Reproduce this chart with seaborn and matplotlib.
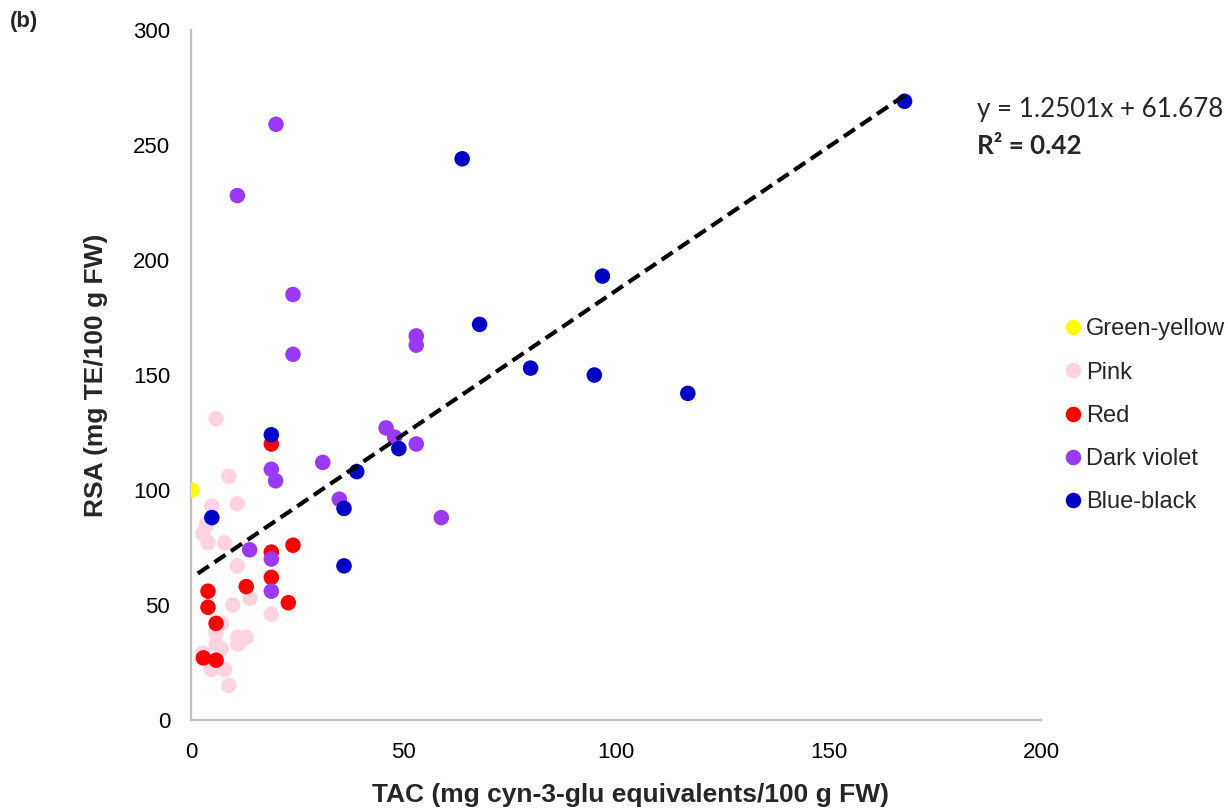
import numpy as np
import pandas as pd
import matplotlib
matplotlib.use("Agg")
import matplotlib.pyplot as plt
import seaborn as sns

# TAC (x) and RSA (y) per flesh colour group
tac_green = [0.2]
rsa_green = [100]

tac_pink = [5.9, 8.9, 10.9, 4.9, 3.6, 2.8, 4.0, 7.9, 10.9, 13.9, 9.8, 18.9,
            7.2, 5.9, 11.0, 13.0, 11.0, 5.9, 7.1, 2.8, 4.8, 7.9, 8.9]
rsa_pink = [131, 106, 94, 93, 85, 81, 77, 77, 67, 53, 50, 46,
            42, 38, 36, 36, 33, 33, 31, 29, 22, 22, 15]

tac_red = [18.9, 24.0, 18.9, 18.9, 13.0, 4.0, 4.0, 22.9, 5.9, 2.9, 5.9]
rsa_red = [120, 76, 73, 62, 58, 56, 49, 51, 42, 27, 26]

tac_violet = [20.0, 10.9, 24.0, 24.0, 53.0, 53.0, 45.9, 47.9, 53.0, 31.0,
              18.9, 19.9, 34.9, 58.9, 13.8, 18.9, 18.9]
rsa_violet = [259, 228, 185, 159, 167, 163, 127, 123, 120, 112,
              109, 104, 96, 88, 74, 70, 56]

tac_blue = [167.9, 63.8, 96.8, 67.9, 79.9, 94.9, 116.9, 18.9, 48.9, 39.0,
            36.0, 4.9, 36.0]
rsa_blue = [269, 244, 193, 172, 153, 150, 142, 124, 118, 108,
            92, 88, 67]

groups = ["Green-yellow", "Pink", "Red", "Dark violet", "Blue-black"]
colors = ["#FFFF00", "#FFD3E0", "#FF0000", "#9A3AF7", "#0000C4"]

slope, intercept = 1.2501, 61.678
r2 = 0.42

df = pd.concat([
    pd.DataFrame({"TAC": tac_green, "RSA": rsa_green, "group": groups[0]}),
    pd.DataFrame({"TAC": tac_pink, "RSA": rsa_pink, "group": groups[1]}),
    pd.DataFrame({"TAC": tac_red, "RSA": rsa_red, "group": groups[2]}),
    pd.DataFrame({"TAC": tac_violet, "RSA": rsa_violet, "group": groups[3]}),
    pd.DataFrame({"TAC": tac_blue, "RSA": rsa_blue, "group": groups[4]}),
], ignore_index=True)

sns.set_style("white")
plt.rcParams["font.family"] = ["Liberation Sans", "DejaVu Sans"]

fig = plt.figure(figsize=(12.28, 8.11), dpi=100)
ax = fig.add_axes([191 / 1228, 1 - 720 / 811, 850 / 1228, 690 / 811])

sns.scatterplot(data=df, x="TAC", y="RSA", hue="group", hue_order=groups,
                palette=colors, s=125, edgecolor="none", ax=ax, zorder=3)

# linear trendline from the equation shown
fit_x = np.array([df["TAC"].min() + 1.4, df["TAC"].max()])
fit = pd.DataFrame({"TAC": fit_x, "RSA": slope * fit_x + intercept})
sns.lineplot(data=fit, x="TAC", y="RSA", color="black", lw=3,
             linestyle=(0, (3.2, 1.6)), ax=ax, zorder=4)

ax.set_xlim(0, 200)
ax.set_ylim(0, 300)
ax.set_xticks([0, 50, 100, 150, 200])
ax.set_yticks([0, 50, 100, 150, 200, 250, 300])
ax.tick_params(length=0, labelsize=16, colors="black")
ax.tick_params(axis="y", pad=15)
ax.tick_params(axis="x", pad=16)
for side in ["top", "right"]:
    ax.spines[side].set_visible(False)
for side in ["left", "bottom"]:
    ax.spines[side].set_color("#BFBFBF")
    ax.spines[side].set_linewidth(1.6)

ax.set_xlabel("TAC (mg cyn-3-glu equivalents/100 g FW)", fontsize=19,
              fontweight="bold")
ax.set_ylabel("RSA (mg TE/100 g FW)", fontsize=19, fontweight="bold")
ax.xaxis.set_label_coords((630 - 191) / 850, (720 - 795) / 690)
ax.xaxis.label.set_va("center")
ax.yaxis.set_label_coords((96 - 191) / 850, 0.5)
ax.yaxis.label.set_va("center")

fig.text(977 / 1228, 1 - 110 / 811, "y = 1.2501x + 61.678", fontsize=18.7,
         family="Lato", va="center", ha="left")
fig.text(977 / 1228, 1 - 146 / 811, "R² = " + str(r2), fontsize=18.7,
         family="Lato", fontweight="bold", va="center", ha="left")
fig.text(10 / 1228, 1 - 22 / 811, "(b)", fontsize=16, fontweight="bold",
         va="center", ha="left")

leg = ax.legend(loc="center left", bbox_to_anchor=(1052 / 1228, 1 - 416 / 811),
                bbox_transform=fig.transFigure, frameon=False, fontsize=17,
                handletextpad=0.05, labelspacing=0.9, borderaxespad=0,
                handlelength=1.0, title=None)

fig.savefig("out.png", dpi=100)
